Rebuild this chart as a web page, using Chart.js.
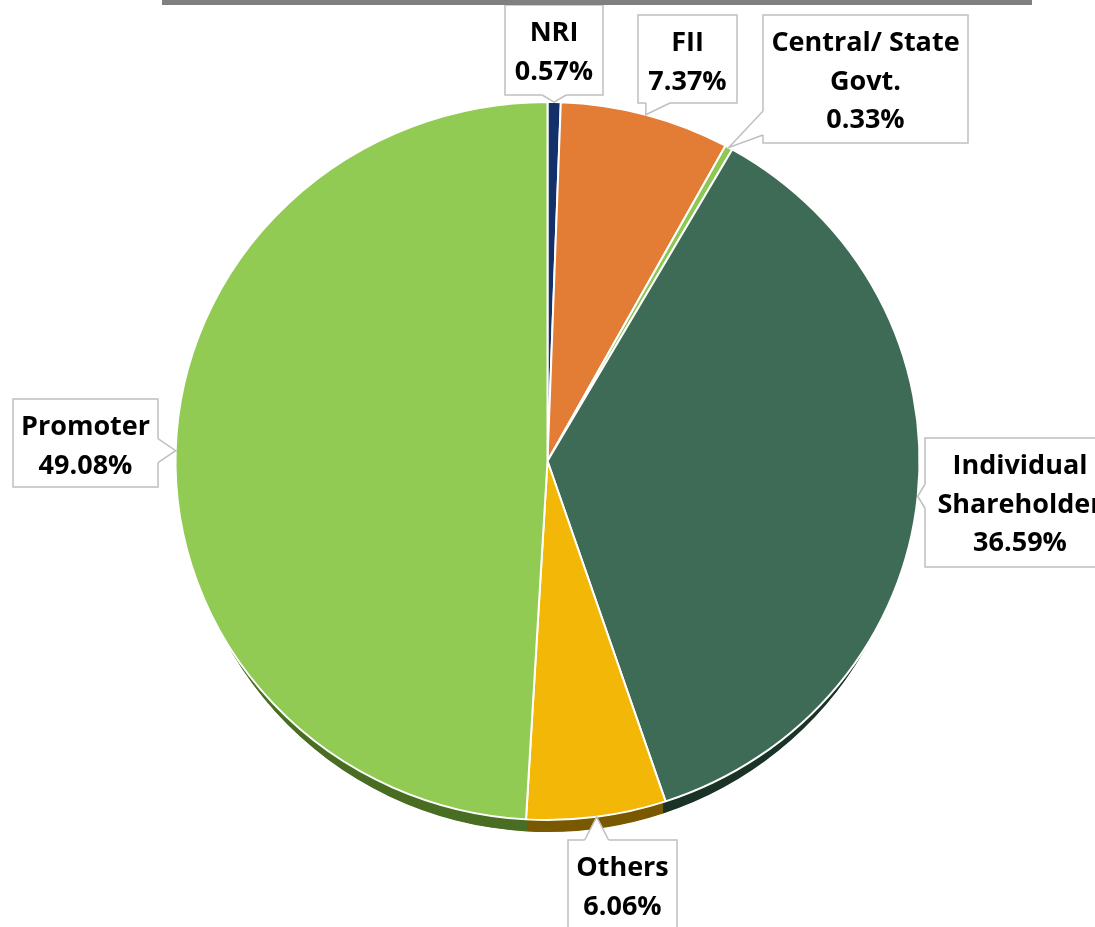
<!DOCTYPE html>
<html>
<head>
<meta charset="utf-8">
<script src="https://cdn.jsdelivr.net/npm/chart.js@4.4.1/dist/chart.umd.min.js"></script>
<style>
	html, body { margin: 0; padding: 0; background: #fff; }
	#wrap { position: relative; width: 1095px; height: 927px; overflow: hidden; }
	#topbar { position: absolute; left: 162px; top: 0; width: 870px; height: 5px; background: #808080; }
	canvas { position: absolute; left: 0; top: 0; }
</style>
</head>
<body>
<div id="wrap">
	<canvas id="holding-chart" width="1095" height="927"></canvas>
	<div id="topbar"></div>
</div>
<script>
// Shareholding pattern, clockwise from 12 o'clock
const categories = ['NRI', 'FII', 'Central/ State Govt.', 'Individual Shareholder', 'Others', 'Promoter'];
const shares = [0.57, 7.37, 0.33, 36.59, 6.06, 49.08];

// Callout text lines per slice (the last line is the value)
const labelLines = [
	['NRI'],
	['FII'],
	['Central/ State', 'Govt.'],
	['Individual', 'Shareholder'],
	['Others'],
	['Promoter'],
];

const topColors = ['#13306a', '#e37c34', '#8fc753', '#3e6b56', '#f2b707', '#92cb53'];
const sideColors = ['#0a1a3a', '#7a3f14', '#4a6e25', '#1c3428', '#7a5a00', '#4a6e24'];

// Callout boxes: left, top, width, height
const boxes = [
	{ x: 505, y: 5, w: 98, h: 90 },
	{ x: 638, y: 15, w: 99, h: 88 },
	{ x: 763, y: 15, w: 205, h: 128 },
	{ x: 925, y: 438, w: 190, h: 129 },
	{ x: 568, y: 840, w: 109, h: 100 },
	{ x: 13, y: 399, w: 145, h: 88 },
];

const tilt = 0.965; // vertical squash of the pie face
const depth = 12; // thickness of the pie edge in px
const sideInset = 7.5; // edge is narrower so it only shows on the lower rim
const labelFont = "bold 27px 'Open Sans', sans-serif";
const lineGap = 38.5;

const tiltPlugin = {
	id: 'tilt',
	beforeDatasetsDraw(chart) {
		const ctx = chart.ctx;
		const meta = chart.getDatasetMeta(0);
		const { x: cx, y: cy, outerRadius } = meta.data[0].getProps(['x', 'y', 'outerRadius']);
		ctx.save();
		ctx.translate(cx, cy);
		ctx.scale(1, tilt);
		ctx.translate(-cx, -cy);

		// edge of the pie, drawn as stacked copies underneath the face
		ctx.save();
		ctx.translate(cx, 0);
		ctx.scale((outerRadius - sideInset) / outerRadius, 1);
		ctx.translate(-cx, 0);
		meta.data.forEach((arc, i) => {
			const p = arc.getProps(['x', 'y', 'startAngle', 'endAngle', 'outerRadius']);
			ctx.fillStyle = sideColors[i];
			for (let d = depth / tilt; d >= 1; d -= 0.5) {
				ctx.beginPath();
				ctx.moveTo(p.x, p.y + d);
				ctx.arc(p.x, p.y + d, p.outerRadius, p.startAngle, p.endAngle);
				ctx.closePath();
				ctx.fill();
			}
		});
		ctx.restore();
	},
	afterDatasetsDraw(chart) {
		chart.ctx.restore();
	},
};

function edgePoint(arc) {
	const p = arc.getProps(['x', 'y', 'startAngle', 'endAngle', 'outerRadius']);
	const mid = (p.startAngle + p.endAngle) / 2;
	return {
		x: p.x + Math.cos(mid) * p.outerRadius,
		y: p.y + Math.sin(mid) * p.outerRadius * tilt,
	};
}

const calloutPlugin = {
	id: 'callouts',
	afterDatasetsDraw(chart) {
		const ctx = chart.ctx;
		const meta = chart.getDatasetMeta(0);
		meta.data.forEach((arc, i) => {
			const b = boxes[i];
			const tip = edgePoint(arc);
			const r = b.x + b.w;
			const btm = b.y + b.h;

			// pick the side of the box facing the slice
			const dl = b.x - tip.x, dr = tip.x - r, dt = b.y - tip.y, db = tip.y - btm;
			const best = Math.max(dl, dr, dt, db);
			let p1, p2, q1, q2;
			const half = 12;
			if (best === dl || best === dr) {
				const ex = best === dl ? b.x : r;
				const c = Math.min(Math.max(tip.y, b.y + 20), btm - 20);
				p1 = { x: ex, y: c - half };
				p2 = { x: ex, y: c + half };
				const inset = best === dl ? 3 : -3;
				q1 = { x: ex + inset, y: p1.y };
				q2 = { x: ex + inset, y: p2.y };
			} else {
				const ey = best === dt ? b.y : btm;
				const c = Math.min(Math.max(tip.x, b.x + 20), r - 20);
				p1 = { x: c - half, y: ey };
				p2 = { x: c + half, y: ey };
				const inset = best === dt ? 3 : -3;
				q1 = { x: p1.x, y: ey + inset };
				q2 = { x: p2.x, y: ey + inset };
			}

			ctx.save();
			ctx.lineWidth = 1.5;
			ctx.strokeStyle = '#bfbfbf';
			ctx.fillStyle = '#ffffff';
			ctx.fillRect(b.x, b.y, b.w, b.h);
			ctx.strokeRect(b.x, b.y, b.w, b.h);

			ctx.beginPath();
			ctx.moveTo(q1.x, q1.y);
			ctx.lineTo(p1.x, p1.y);
			ctx.lineTo(tip.x, tip.y);
			ctx.lineTo(p2.x, p2.y);
			ctx.lineTo(q2.x, q2.y);
			ctx.closePath();
			ctx.fill();

			ctx.beginPath();
			ctx.moveTo(p1.x, p1.y);
			ctx.lineTo(tip.x, tip.y);
			ctx.lineTo(p2.x, p2.y);
			ctx.stroke();

			const lines = [...labelLines[i], shares[i].toFixed(2) + '%'];
			ctx.fillStyle = '#000000';
			ctx.font = labelFont;
			ctx.textAlign = 'center';
			ctx.textBaseline = 'alphabetic';
			const cx = b.x + b.w / 2;
			lines.forEach((t, k) => {
				ctx.fillText(t, cx, b.y + 36 + k * lineGap);
			});
			ctx.restore();
		});
	},
};

new Chart(document.getElementById('holding-chart'), {
	type: 'pie',
	data: {
		labels: categories,
		datasets: [{
			data: shares,
			backgroundColor: topColors,
			borderColor: '#ffffff',
			borderWidth: 2,
			radius: 372,
		}],
	},
	options: {
		responsive: false,
		animation: false,
		events: [],
		layout: { padding: { bottom: 5 } },
		plugins: {
			legend: { display: false },
			tooltip: { enabled: false },
		},
	},
	plugins: [tiltPlugin, calloutPlugin],
});
</script>
</body>
</html>
